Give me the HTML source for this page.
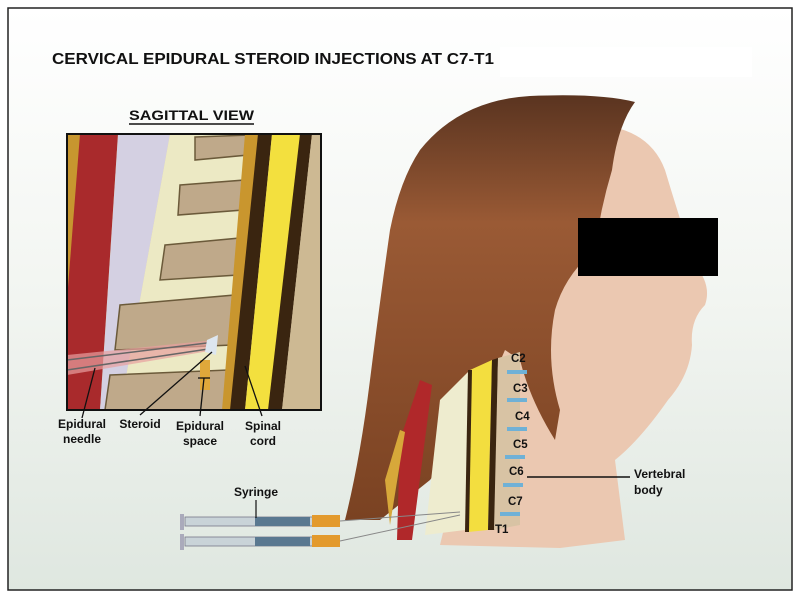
<!DOCTYPE html>
<html><head><style>
html,body{margin:0;padding:0;width:800px;height:600px;overflow:hidden;background:#fff}
svg{display:block}
text{font-family:"Liberation Sans",sans-serif;font-weight:bold;fill:#111}
</style></head><body>
<svg width="800" height="600" viewBox="0 0 800 600" xmlns="http://www.w3.org/2000/svg">
<defs>
<linearGradient id="bg" x1="0" y1="0" x2="0" y2="1">
<stop offset="0" stop-color="#ffffff"/><stop offset="0.5" stop-color="#f2f5f1"/><stop offset="1" stop-color="#dfe7e0"/>
</linearGradient>
<linearGradient id="hair" x1="0" y1="0" x2="0" y2="1">
<stop offset="0" stop-color="#5a3420"/><stop offset="0.3" stop-color="#9a5a35"/><stop offset="1" stop-color="#7a4222"/>
</linearGradient>
<clipPath id="ins"><rect x="67" y="134" width="254" height="276"/></clipPath>
</defs>
<rect x="0" y="0" width="800" height="600" fill="#fff"/>
<rect x="8" y="8" width="784" height="582" fill="url(#bg)" stroke="#222" stroke-width="1.5"/>
<rect x="500" y="47" width="252" height="30" fill="#fff"/>
<text x="52" y="64" font-size="15.5" textLength="442" lengthAdjust="spacingAndGlyphs">CERVICAL EPIDURAL STEROID INJECTIONS AT C7-T1</text>
<text x="129" y="120" font-size="14" textLength="125" lengthAdjust="spacingAndGlyphs">SAGITTAL VIEW</text>
<line x1="129" y1="124" x2="254" y2="124" stroke="#111" stroke-width="1.5"/>

<!-- head -->
<path d="M600 125 Q650 130 665 170 Q680 220 695 265 Q712 285 705 305 Q690 320 692 345 Q690 375 668 400 Q640 440 615 460 L625 540 L560 548 L440 545 L480 380 Z" fill="#ebc8b1"/>
<path d="M420 150 Q460 100 530 96 Q600 93 635 102 Q618 125 612 170 Q600 210 595 250 Q565 275 555 310 Q545 360 560 410 L555 440 Q530 400 520 360 L505 350 L470 430 L430 480 L380 520 L345 520 Q360 460 370 380 Q380 300 390 230 Q400 180 420 150 Z" fill="url(#hair)"/>
<rect x="578" y="218" width="140" height="58" fill="#000"/>
<!-- neck spine -->
<g>
<path d="M440 400 L470 370 L465 530 L425 535 Z" fill="#eeeccf"/>
<path d="M400 440 L420 380 L432 385 L412 540 L397 540 Z" fill="#b0282a"/>
<path d="M385 480 L400 430 L405 432 L390 525 Z" fill="#d7a83a"/>
<path d="M470 370 L492 360 L488 530 L468 532 Z" fill="#f3de3f"/>
<path d="M492 360 L498 358 L495 530 L488 530 Z" fill="#3a2510"/>
<path d="M498 358 L520 352 L520 525 L494 530 Z" fill="#d8c3a4"/>
<path d="M468 370 L472 370 L469 532 L465 532 Z" fill="#3a2510"/>
</g>
<g fill="#6fb1d6"><rect x="507" y="370" width="20" height="4"/><rect x="507" y="398" width="20" height="4"/><rect x="507" y="427" width="20" height="4"/><rect x="505" y="455" width="20" height="4"/><rect x="503" y="483" width="20" height="4"/><rect x="500" y="512" width="20" height="4"/></g>
<g font-size="11.5"><text x="511" y="362">C2</text><text x="513" y="392">C3</text><text x="515" y="420">C4</text><text x="513" y="448">C5</text><text x="509" y="475">C6</text><text x="508" y="505">C7</text><text x="495" y="533">T1</text></g>
<line x1="527" y1="477" x2="630" y2="477" stroke="#111" stroke-width="1.5"/>
<text x="634" y="478" font-size="12">Vertebral</text><text x="634" y="494" font-size="12">body</text>
<!-- syringes -->
<g>
<rect x="185" y="517" width="140" height="9" fill="#c9d3d8" stroke="#778" stroke-width="0.8"/>
<rect x="185" y="537" width="140" height="9" fill="#c9d3d8" stroke="#778" stroke-width="0.8"/>
<rect x="255" y="517" width="55" height="9" fill="#5a7890"/>
<rect x="255" y="537" width="55" height="9" fill="#5a7890"/>
<rect x="312" y="515" width="28" height="12" fill="#e39a2d"/>
<rect x="312" y="535" width="28" height="12" fill="#e39a2d"/>
<rect x="180" y="514" width="4" height="16" fill="#aab"/><rect x="180" y="534" width="4" height="16" fill="#aab"/>
<line x1="340" y1="521" x2="460" y2="512" stroke="#888" stroke-width="1"/>
<line x1="340" y1="541" x2="460" y2="515" stroke="#888" stroke-width="1"/>
</g>
<text x="234" y="496" font-size="12">Syringe</text>
<line x1="256" y1="500" x2="256" y2="518" stroke="#111" stroke-width="1.2"/>

<!-- inset -->
<g clip-path="url(#ins)">
<rect x="67" y="134" width="254" height="276" fill="#d8c8a8"/>
<path d="M67 134 L120 134 L100 410 L67 410 Z" fill="#c7962f"/>
<path d="M80 134 L118 134 L100 410 L67 410 L67 300 Z" fill="#a92a2c"/>
<path d="M118 134 L170 134 L120 410 L100 410 Z" fill="#d4d0e2"/>
<path d="M170 134 L245 134 L225 410 L120 410 Z" fill="#ece9c4"/>
<g fill="#bfa98a" stroke="#6b5a3a" stroke-width="1.5">
<path d="M195 137 L250 135 L248 155 L195 160 Z"/>
<path d="M180 185 L245 180 L243 210 L178 215 Z"/>
<path d="M165 245 L240 238 L238 275 L160 280 Z"/>
<path d="M120 305 L235 295 L232 345 L115 350 Z"/>
<path d="M110 375 L228 370 L225 410 L105 410 Z"/>
</g>
<path d="M245 134 L262 134 L240 410 L222 410 Z" fill="#c9962e"/>
<path d="M258 134 L272 134 L245 410 L230 410 Z" fill="#3a2510"/>
<path d="M272 134 L305 134 L270 410 L245 410 Z" fill="#f3e03e"/>
<path d="M300 134 L312 134 L282 410 L268 410 Z" fill="#3a2510"/>
<path d="M312 134 L321 134 L321 410 L282 410 Z" fill="#cdb993"/>
<path d="M67 355 L215 340 L215 350 L67 375 Z" fill="#e8a0a0" opacity="0.7"/>
<line x1="67" y1="360" x2="215" y2="342" stroke="#666" stroke-width="1.5"/>
<line x1="67" y1="370" x2="215" y2="348" stroke="#666" stroke-width="1.5"/>
<path d="M207 340 L218 335 L216 355 L205 352 Z" fill="#dde6f0"/>
<rect x="200" y="360" width="10" height="30" fill="#e0a83a"/>
</g>
<rect x="67" y="134" width="254" height="276" fill="none" stroke="#111" stroke-width="2"/>
<g stroke="#111" stroke-width="1.3">
<line x1="82" y1="418" x2="95" y2="368"/>
<line x1="140" y1="415" x2="212" y2="352"/>
<line x1="200" y1="416" x2="204" y2="378"/><line x1="198" y1="378" x2="210" y2="378"/>
<line x1="262" y1="416" x2="245" y2="366"/>
</g>
<g font-size="12" text-anchor="middle">
<text x="82" y="428">Epidural</text><text x="82" y="443">needle</text>
<text x="140" y="428">Steroid</text>
<text x="200" y="430">Epidural</text><text x="200" y="445">space</text>
<text x="263" y="430">Spinal</text><text x="263" y="445">cord</text>
</g>
</svg>
</body></html>
